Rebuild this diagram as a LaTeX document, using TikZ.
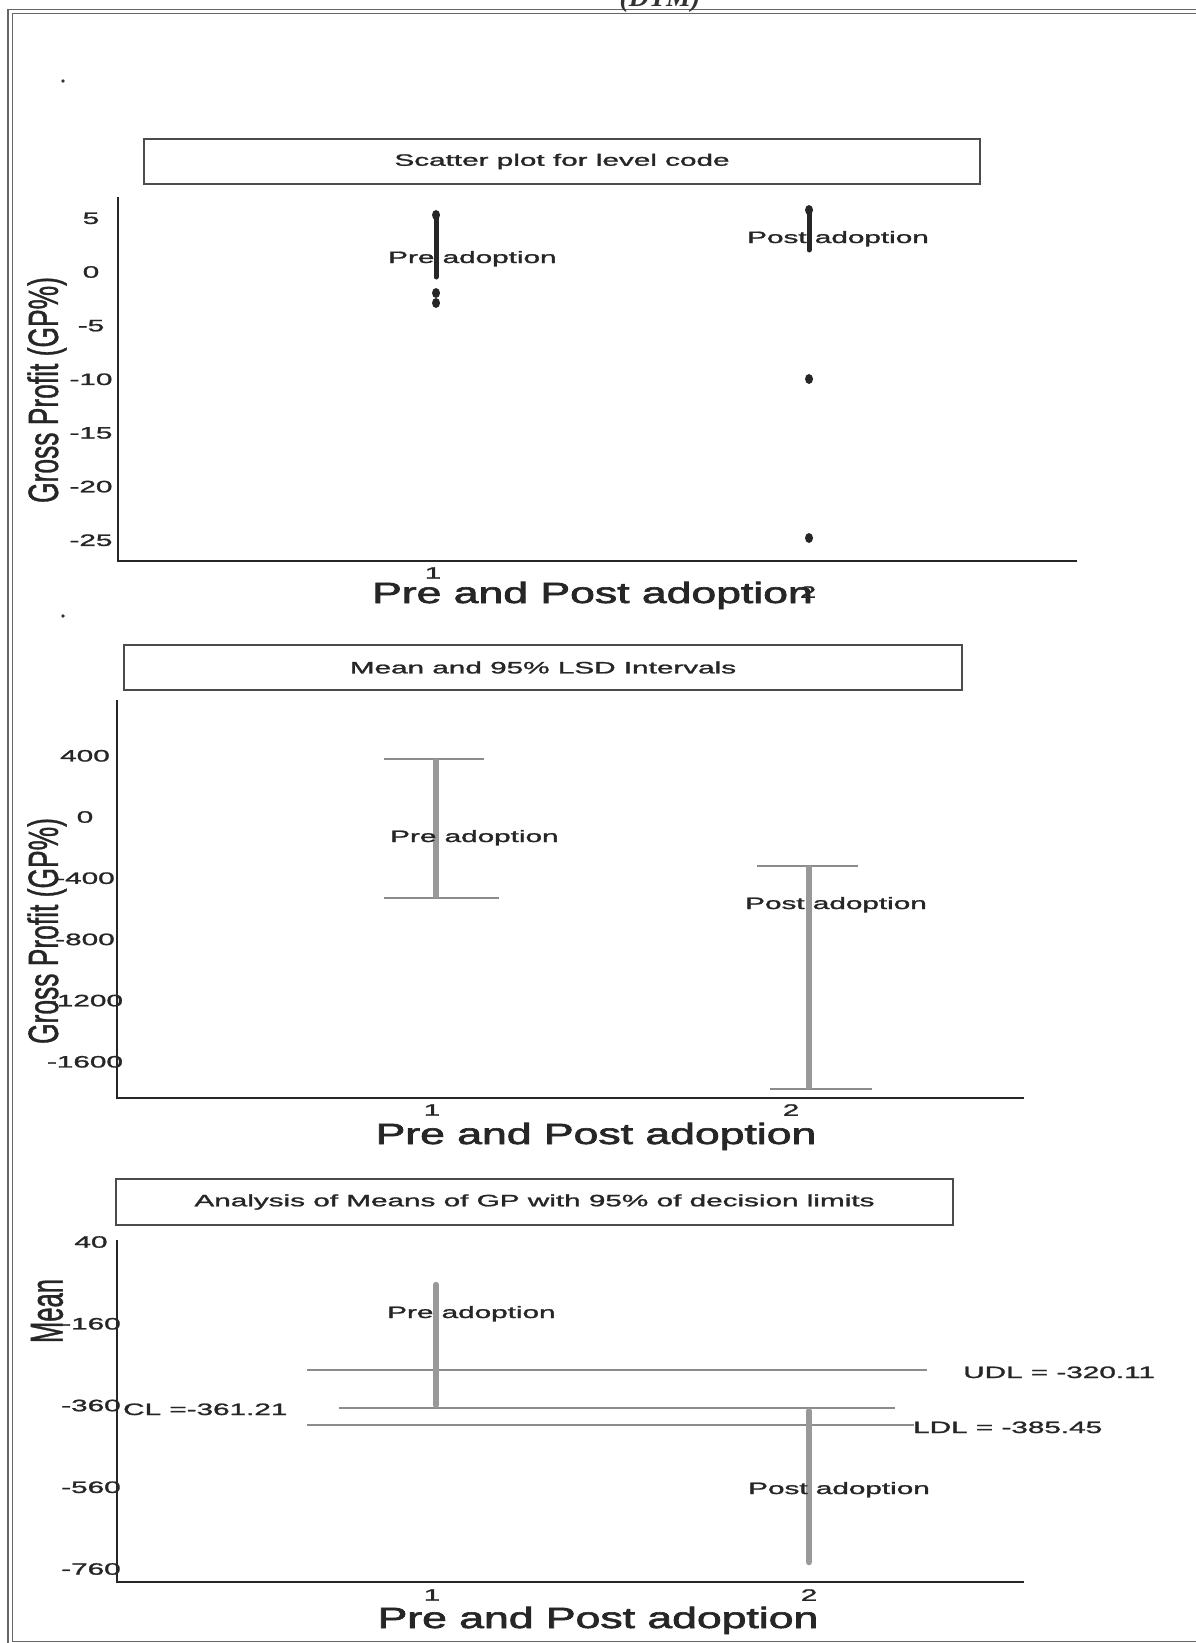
\documentclass[tikz,border=0pt]{standalone}
\usepackage{fontspec}
\setmainfont{Liberation Sans}
\newfontfamily\plotfont{Liberation Sans}[FakeBold=1.2]
\newfontfamily\axisfont{Liberation Sans}[FakeBold=2]
\newfontfamily\captionserif{Liberation Serif}
\usepackage{graphicx}
\newcommand{\sx}[1]{\scalebox{1.8}[1]{#1}}
\newcommand{\sxl}[1]{\scalebox{1.52}[1]{#1}}

\begin{document}
\begin{tikzpicture}[x=1pt, y=-1pt,
      titlebox/.style={draw=black!70, line width=1.5pt, inner sep=0pt, font=\plotfont\fontsize{16.5}{18}\selectfont, text=black!85},
      tick/.style={inner sep=0pt, font=\plotfont\fontsize{16.5}{18}\selectfont, text=black!85},
      lbl/.style={tick, anchor=base west},
      xlab/.style={inner sep=0pt, anchor=base, font=\axisfont\fontsize{29.3}{32}\selectfont, text=black!85},
      ylab/.style={inner sep=0pt, rotate=90, text=black!85},
      axisline/.style={line width=2.4pt, black!85},
      limline/.style={line width=2.2pt, black!45},
      graybar/.style={line width=6.5pt, black!40},
      blackbar/.style={line width=5pt, black!85, line cap=round},
      pt/.style={black!85},]
      \useasboundingbox (0,0) rectangle (1196,1643);
      \clip (0,0) rectangle (1196,1643);

      \draw[black!60, line width=1.4pt] (8,9.5) rectangle (1215,1646);
      \draw[black!60, line width=1.4pt] (12.5,13.5) rectangle (1210,1641.5);
      \node[inner sep=0pt, anchor=base, text=black!80, font=\captionserif\bfseries\itshape\fontsize{28}{30}\selectfont] (dtm) at (660,7) {(DTM)};
      \fill[black!80] (63,81) circle (1.8);
      \fill[black!80] (63,616) circle (1.8);

      % scatter plot
      \node[titlebox, minimum width=836pt, minimum height=45pt] (title1) at (562,161.5) {\sx{Scatter plot for level code}};
      \draw[axisline] (118,197) |- (1077,561);
      \foreach \v in {5,0,-5,...,-25}
        \node[tick] (ya\v) at (91,{272-10.73*\v}) {\sx{\v}};
      \node[ylab, font=\plotfont\fontsize{26.4}{28}\selectfont] (ylab1) at (47,390) {\scalebox{1}[1.6]{Gross Profit (GP\%)}};
      \node[tick] (xa1) at (433,573) {\sx{1}};
      \node[tick] (xa2) at (808,592) {\sx{2}};
      \node[xlab] (xlab1) at (592.5,603) {\sxl{Pre and Post adoption}};
      \draw[blackbar] (436,215) -- (436,277);
      \foreach \y in {215,293,303}
        \fill[pt] (436,\y) ellipse [x radius=4, y radius=5];
      \draw[blackbar] (809,210) -- (809,250);
      \foreach \y in {210,379,538}
        \fill[pt] (809,\y) ellipse [x radius=4, y radius=5];
      \node[lbl] (pre1) at (388,263) {\sx{Pre adoption}};
      \node[lbl] (post1) at (747,243) {\sx{Post adoption}};

      % LSD intervals
      \node[titlebox, minimum width=838pt, minimum height=45pt] (title2) at (543,667.5) {\sx{Mean and 95\% LSD Intervals}};
      \draw[axisline] (117,700) |- (1024,1098);
      \foreach \v in {400,0,-400,...,-1600}
        \node[tick] (yb\v) at (85,{817-0.153*\v}) {\sx{\v}};
      \node[ylab, font=\plotfont\fontsize{26.4}{28}\selectfont] (ylab2) at (47,931) {\scalebox{1}[1.6]{Gross Profit (GP\%)}};
      \draw[limline] (384,759) -- (484,759);
      \draw[limline] (384,898) -- (499,898);
      \draw[graybar] (436,759) -- (436,898);
      \draw[limline] (757,866) -- (858,866);
      \draw[limline] (770,1089) -- (872,1089);
      \draw[graybar] (809,866) -- (809,1089);
      \node[lbl] (pre2) at (390,842) {\sx{Pre adoption}};
      \node[lbl] (post2) at (745,909) {\sx{Post adoption}};
      \node[tick] (xb1) at (432,1110) {\sx{1}};
      \node[tick] (xb2) at (791,1110) {\sx{2}};
      \node[xlab] (xlab2) at (596,1144) {\sxl{Pre and Post adoption}};

      % analysis of means
      \node[titlebox, minimum width=837pt, minimum height=46pt] (title3) at (534.5,1202) {\sx{Analysis of Means of GP with 95\% of decision limits}};
      \draw[axisline] (117,1240) |- (1024,1582);
      \foreach \v in {40,-160,...,-760}
        \node[tick] (yc\v) at (91,{1242-0.40875*(\v-40)}) {\sx{\v}};
      \node[ylab, font=\plotfont\fontsize{25.6}{28}\selectfont] (ylab3) at (47,1311) {\scalebox{1}[1.8]{Mean}};
      \draw[limline] (307,1370) -- (927,1370);
      \draw[limline] (339,1408) -- (895,1408);
      \draw[limline] (307,1425) -- (914,1425);
      \draw[graybar, line cap=round] (436,1285) -- (436,1405);
      \draw[graybar, line cap=round] (809,1411) -- (809,1562);
      \node[lbl] (cl) at (123,1415) {\sx{CL =-361.21}};
      \node[lbl] (udl) at (963,1378) {\sx{UDL = -320.11}};
      \node[lbl] (ldl) at (913,1433) {\sx{LDL = -385.45}};
      \node[lbl] (pre3) at (387,1318) {\sx{Pre adoption}};
      \node[lbl] (post3) at (748,1494) {\sx{Post adoption}};
      \node[tick] (xc1) at (432,1595) {\sx{1}};
      \node[tick] (xc2) at (809,1595) {\sx{2}};
      \node[xlab] (xlab3) at (598,1628) {\sxl{Pre and Post adoption}};
\end{tikzpicture}
\end{document}
